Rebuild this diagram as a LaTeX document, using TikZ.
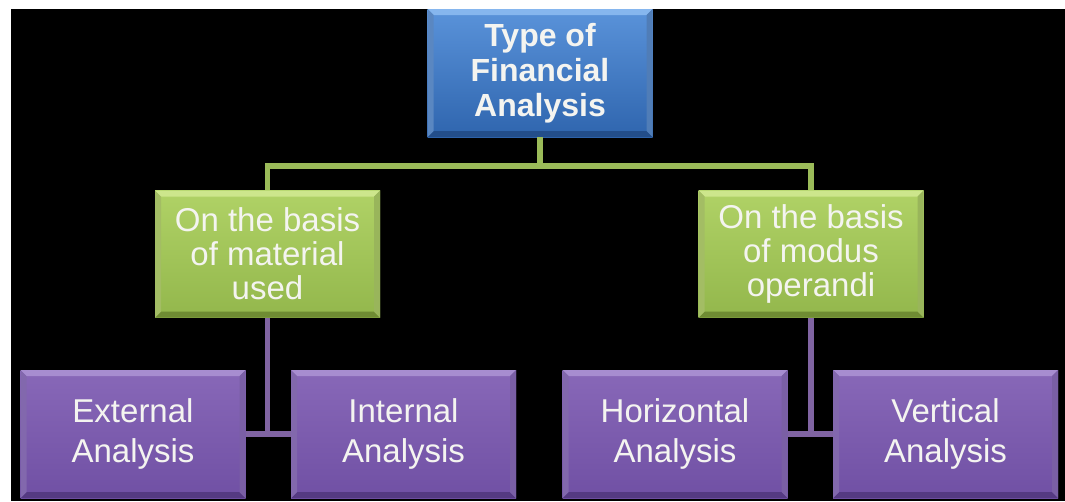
\documentclass[tikz,border=0pt]{standalone}
\usepackage{fontspec}
\setmainfont{Liberation Sans}
\definecolor{bgblack}{HTML}{000000}
\definecolor{blueTop}{HTML}{5A93DA}
\definecolor{blueBot}{HTML}{2F65AE}
\definecolor{blueHi}{HTML}{86B6EE}
\definecolor{blueLo}{HTML}{234E8A}
\definecolor{greenTop}{HTML}{B0D266}
\definecolor{greenBot}{HTML}{93B74C}
\definecolor{greenHi}{HTML}{CDE68C}
\definecolor{greenLo}{HTML}{6F8C33}
\definecolor{greenLine}{HTML}{9BBB59}
\definecolor{purpTop}{HTML}{8868B8}
\definecolor{purpBot}{HTML}{7050A4}
\definecolor{purpHi}{HTML}{A78DD0}
\definecolor{purpLo}{HTML}{553A82}
\definecolor{purpLine}{HTML}{8064A2}
\definecolor{txtWhite}{HTML}{F4F4F0}
\begin{document}
\begin{tikzpicture}[x=1pt,y=-1pt,
  % bevelled rim: light top edge, dark bottom edge, mid-tone sides
  bevel/.style 2 args={path picture={
    \fill[#1] (path picture bounding box.north west) -- (path picture bounding box.north east)
      -- ([shift={(-6pt,-6pt)}]path picture bounding box.north east)
      -- ([shift={(6pt,-6pt)}]path picture bounding box.north west) -- cycle;
    \fill[#2] (path picture bounding box.south west) -- (path picture bounding box.south east)
      -- ([shift={(-6pt,6pt)}]path picture bounding box.south east)
      -- ([shift={(6pt,6pt)}]path picture bounding box.south west) -- cycle;
    \fill[#1!55!#2] (path picture bounding box.north west) -- ([shift={(6pt,-6pt)}]path picture bounding box.north west)
      -- ([shift={(6pt,6pt)}]path picture bounding box.south west) -- (path picture bounding box.south west) -- cycle;
    \fill[#1!45!#2] (path picture bounding box.north east) -- ([shift={(-6pt,-6pt)}]path picture bounding box.north east)
      -- ([shift={(-6pt,6pt)}]path picture bounding box.south east) -- (path picture bounding box.south east) -- cycle;
  }},
  card/.style={rectangle, inner sep=0pt, minimum width=225pt, align=center, text=txtWhite},
  topcard/.style={card, minimum height=128pt, top color=blueTop, bottom color=blueBot,
    bevel={blueHi}{blueLo}, font=\fontsize{32}{35}\selectfont\bfseries},
  midcard/.style={card, minimum height=127pt, top color=greenTop, bottom color=greenBot,
    bevel={greenHi}{greenLo}, font=\fontsize{33}{34}\selectfont},
  leafcard/.style={card, minimum height=128pt, top color=purpTop, bottom color=purpBot,
    bevel={purpHi}{purpLo}, font=\fontsize{33}{40}\selectfont},
  greenlink/.style={draw=greenLine, line width=5.5pt},
  purplelink/.style={draw=purpLine, line width=5.5pt},
]
\useasboundingbox (0,0) rectangle (1065,501);
\fill[white] (0,0) rectangle (1065,501);
\fill[bgblack] (11,9) rectangle (1065,501);

% level of the horizontal bus under the root
\coordinate (bus) at (0,166);

\node[topcard] (root) at (540,73) {Type of\\Financial\\Analysis};
\node[midcard] (gl) at (267.5,254) {On the basis\\of material\\used};
\node[midcard] (gr) at (811,254) {On the basis\\of modus\\operandi};

\node[leafcard] (ext) at (133,434) {External\\Analysis};
\node[leafcard] (int) at (403.5,434) {Internal\\Analysis};
\node[leafcard] (hor) at (675,434) {Horizontal\\Analysis};
\node[leafcard] (ver) at (945.5,434) {Vertical\\Analysis};

% root to the two criteria
\path[greenlink] (root.south) -- (root.south |- bus) -| (gl.north);
\path[greenlink] (root.south |- bus) -| (gr.north);

% criteria to their pairs of analyses
\coordinate (jl) at (gl.south |- ext.east);
\coordinate (jr) at (gr.south |- hor.east);
\path[purplelink] (gl.south) -- (jl);
\path[purplelink] (ext.east) -- (int.west);
\path[purplelink] (gr.south) -- (jr);
\path[purplelink] (hor.east) -- (ver.west);
\end{tikzpicture}
\end{document}
